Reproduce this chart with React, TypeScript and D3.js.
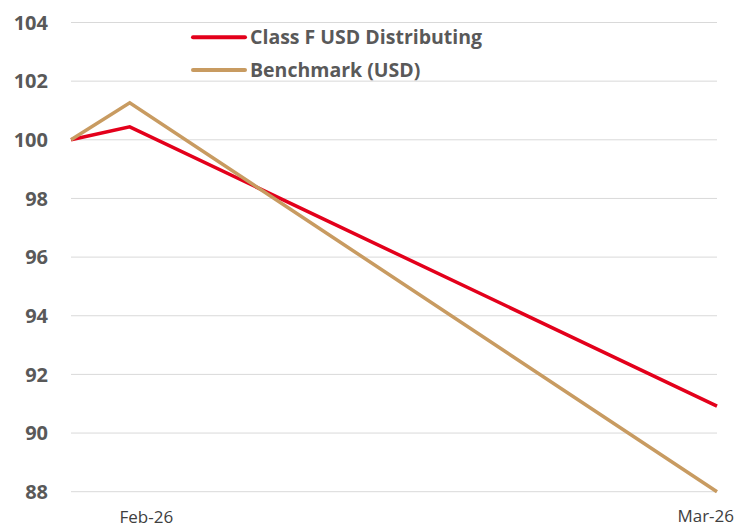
import React from "react";
import * as d3 from "d3";

const dates = ["2026-01-28", "2026-01-31", "2026-03-02"];
const classF = [100, 100.44, 90.92];
const benchmark = [100, 101.26, 88.0];
const yTicks = [88, 90, 92, 94, 96, 98, 100, 102, 104];
const xTickDates = ["2026-02-01", "2026-03-01"];
const xTickLabels = ["Feb-26", "Mar-26"];
const seriesNames = ["Class F USD Distributing", "Benchmark (USD)"];
const colors = ["#E3001B", "#C89B61"];

const W = 735;
const H = 528;

export default function App() {
  const parse = d3.utcParse("%Y-%m-%d");
  const xd = dates.map((d) => parse(d) as Date);
  const x = d3.scaleUtc().domain([xd[0], xd[2]]).range([71, 717]);
  const y = d3.scaleLinear().domain([88, 104]).range([491.7, 22.5]);
  const line = d3
    .line<number>()
    .x((_, i) => x(xd[i]))
    .y((v) => y(v));
  const series = [classF, benchmark];
  const font = "'Open Sans', 'Liberation Sans', sans-serif";
  return (
    <svg
      width={W}
      height={H}
      style={{ position: "absolute", left: 0, top: 0, background: "#fff" }}
    >
      {yTicks.map((t) => (
        <g key={t}>
          <line x1={71} x2={717} y1={y(t)} y2={y(t)} stroke="#D9D9D9" strokeWidth={1} />
          <text
            x={48}
            y={y(t)}
            dy="0.36em"
            textAnchor="end"
            fontFamily={font}
            fontWeight="bold"
            fontSize={20}
            fill="#595959"
          >
            {t}
          </text>
        </g>
      ))}
      {xTickDates.map((d, i) => {
        const px = x(parse(d) as Date);
        const isLast = i === xTickDates.length - 1;
        return (
          <text
            key={d}
            x={isLast ? 734 : px - 3}
            y={isLast ? 522 : 523}
            textAnchor={isLast ? "end" : "middle"}
            fontFamily={font}
            fontSize={17}
            fill="#404040"
          >
            {xTickLabels[i]}
          </text>
        );
      })}
      {series.map((s, i) => (
        <path
          key={i}
          d={line(s) || ""}
          fill="none"
          stroke={colors[i]}
          strokeWidth={3.5}
          strokeLinejoin="miter"
        />
      ))}
      {seriesNames.map((n, i) => (
        <g key={n} transform={`translate(0, ${37.3 + i * 32.7})`}>
          <line x1={193} x2={245} y1={0} y2={0} stroke={colors[i]} strokeWidth={4} strokeLinecap="round" />
          <text
            x={250}
            y={0}
            dy="0.36em"
            fontFamily={font}
            fontWeight="bold"
            fontSize={19.5}
            fill="#595959"
          >
            {n}
          </text>
        </g>
      ))}
    </svg>
  );
}
